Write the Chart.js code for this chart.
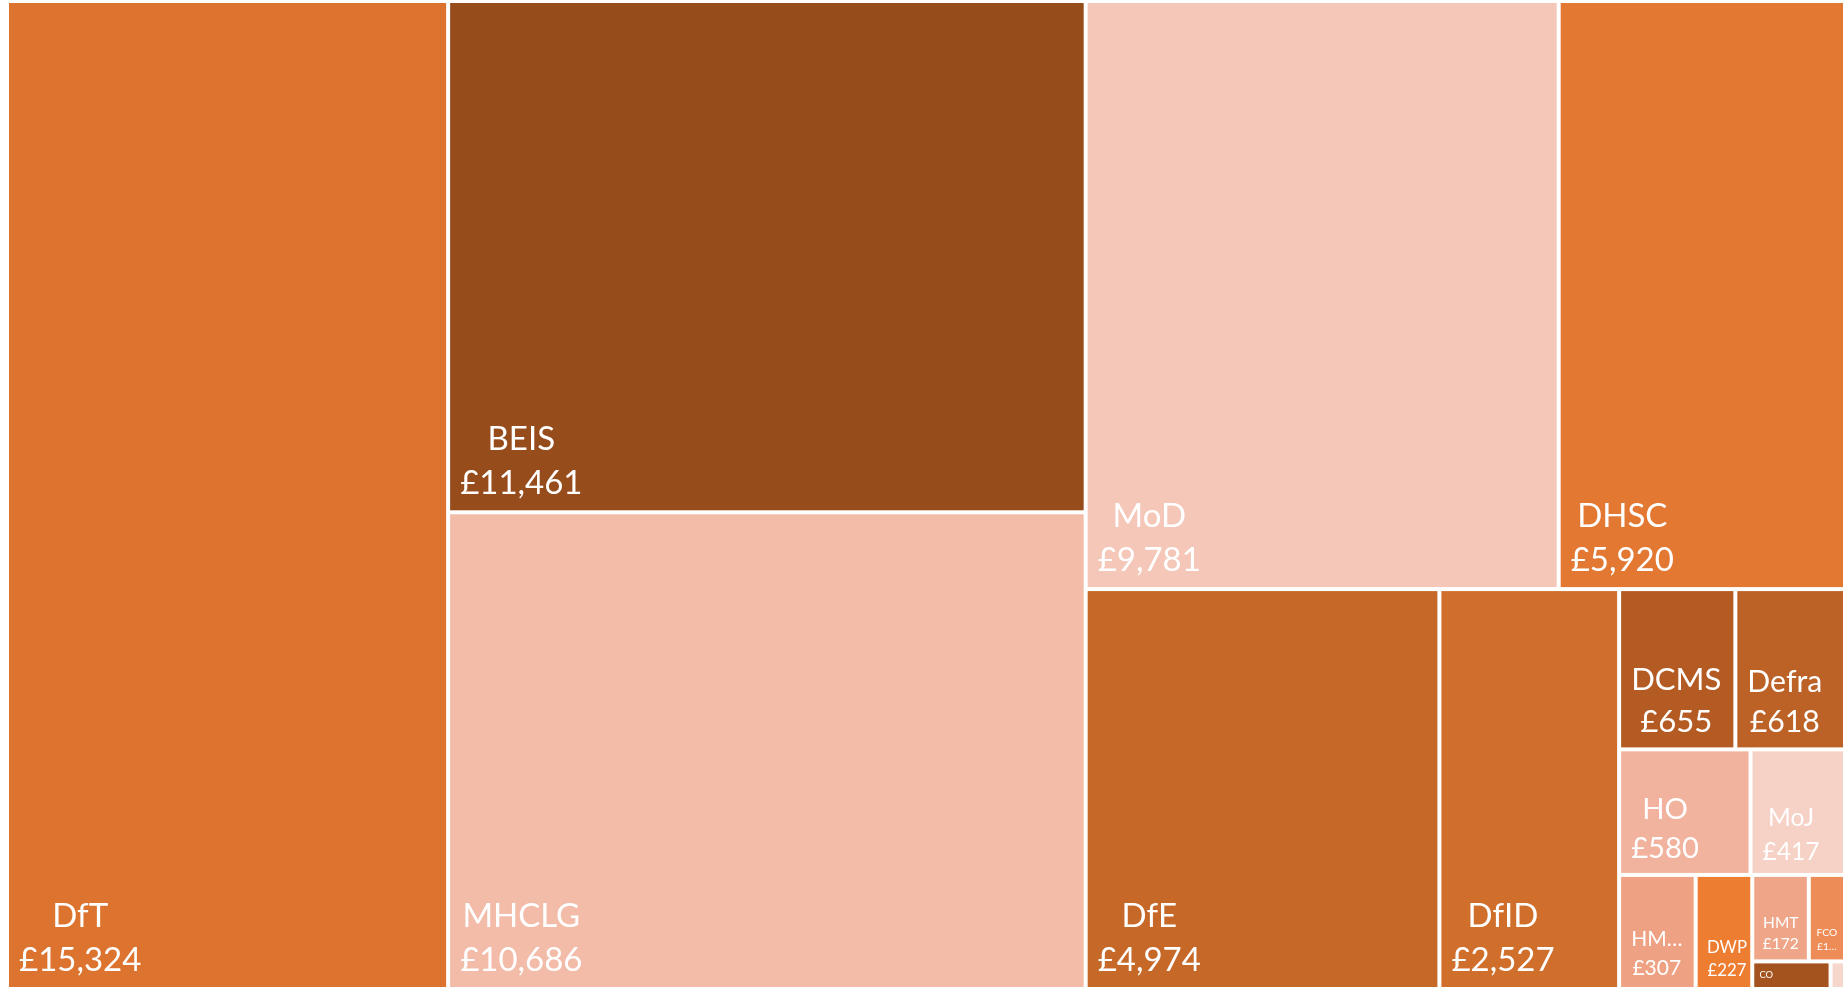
<!DOCTYPE html>
<html>
<head>
<meta charset="utf-8">
<script src="https://cdn.jsdelivr.net/npm/chart.js@4.4.1/dist/chart.umd.min.js"></script>
<style>
  html, body { margin: 0; padding: 0; background: #fff; overflow: hidden; }
  #wrap { width: 1847px; height: 991px; }
</style>
</head>
<body>
<div id="wrap"><canvas id="chart" width="1847" height="991"></canvas></div>
<script>
// department spend, £m
const departments = ['DfT', 'BEIS', 'MHCLG', 'MoD', 'DHSC', 'DfE', 'DfID', 'DCMS', 'Defra', 'HO', 'MoJ', 'HMRC', 'DWP', 'HMT', 'FCO', 'CO', 'Other'];
const spend = [15324, 11461, 10686, 9781, 5920, 4974, 2527, 655, 618, 580, 417, 307, 227, 172, 110, 76, 14];
const fills = ['#DC7430', '#974C1C', '#F2BCA9', '#F4C7B8', '#E27832', '#C66828', '#D06E2B', '#B35B22',
               '#BD6227', '#F2B39E', '#F6D1C5', '#EFA283', '#ED7D31', '#EFA688', '#EE8C58', '#A4531F', '#F7D6CB'];

// squarified layout, but aiming for slightly tall cells
function squarify(values, aspect) {
    const total = values.reduce((a, b) => a + b, 0);
    const areas = values.map(v => v / total * aspect);
    const target = Math.log(0.74);
    let rect = {x: 0, y: 0, w: aspect, h: 1};
    const out = [];

    function cost(row) {
        const s = row.reduce((a, i) => a + areas[i], 0);
        const vertical = rect.w >= rect.h;
        const t = s / (vertical ? rect.h : rect.w);
        let worst = 0;
        row.forEach(i => {
            const len = areas[i] / t;
            const r = vertical ? t / len : len / t;
            worst = Math.max(worst, Math.abs(Math.log(r) - target));
        });
        return worst;
    }

    let i = 0;
    while (i < areas.length) {
        let row = [i], best = cost(row), j = i + 1;
        while (j < areas.length) {
            const c = cost(row.concat(j));
            if (c > best) break;
            row.push(j);
            best = c;
            j++;
        }
        const s = row.reduce((a, k) => a + areas[k], 0);
        if (rect.w >= rect.h) {
            const t = s / rect.h;
            let yy = rect.y;
            row.forEach(k => {
                const hh = areas[k] / t;
                out[k] = {x: rect.x, y: yy, w: t, h: hh};
                yy += hh;
            });
            rect = {x: rect.x + t, y: rect.y, w: rect.w - t, h: rect.h};
        } else {
            const t = s / rect.w;
            let xx = rect.x;
            row.forEach(k => {
                const ww = areas[k] / t;
                out[k] = {x: xx, y: rect.y, w: ww, h: t};
                xx += ww;
            });
            rect = {x: rect.x, y: rect.y + t, w: rect.w, h: rect.h - t};
        }
        i = j;
    }
    return out;
}

function fitText(ctx, text, avail) {
    if (ctx.measureText(text).width <= avail) return text;
    let t = text;
    while (t.length > 1 && ctx.measureText(t + '…').width > avail) t = t.slice(0, -1);
    return t + '…';
}

const treemapPlugin = {
    id: 'treemap',
    afterDatasetsDraw(chart) {
        const {ctx, chartArea, scales} = chart;
        const ds = chart.data.datasets[0];
        const aspect = chartArea.width / chartArea.height;
        const cells = squarify(ds.data, aspect);
        const gap = 2;
        ctx.save();
        cells.forEach((c, i) => {
            const x0 = scales.x.getPixelForValue(c.x / aspect) + gap;
            const x1 = scales.x.getPixelForValue((c.x + c.w) / aspect) - gap;
            const y0 = scales.y.getPixelForValue(c.y) + gap;
            const y1 = scales.y.getPixelForValue(c.y + c.h) - gap;
            const w = x1 - x0, h = y1 - y0;
            ctx.fillStyle = ds.backgroundColor[i];
            ctx.fillRect(x0, y0, w, h);

            const fs = Math.min(33, 0.235 * Math.sqrt(w * h), 0.32 * w, 0.4 * h);
            if (fs < 7) return;
            ctx.font = fs.toFixed(1) + 'px Lato';
            ctx.fillStyle = '#ffffff';
            ctx.textAlign = 'center';
            ctx.textBaseline = 'alphabetic';
            const pad = Math.min(10, 0.55 * fs);
            const avail = w - pad - 3;
            let lines = [chart.data.labels[i], '£' + ds.data[i].toLocaleString('en-GB')];
            const lh = fs * 1.35;
            const bottomGap = 6 + 0.3 * fs;
            if (bottomGap + fs * 0.75 + lh > h) lines = lines.slice(0, 1);
            lines = lines.map(t => fitText(ctx, t, avail));
            const bw = Math.max(...lines.map(t => ctx.measureText(t).width));
            const cx = x0 + pad + bw / 2;
            let by = y1 - bottomGap - (lines.length - 1) * lh;
            lines.forEach(t => {
                ctx.fillText(t, cx, by);
                by += lh;
            });
        });
        ctx.restore();
    }
};

new Chart(document.getElementById('chart'), {
    type: 'scatter',
    data: {
        labels: departments,
        datasets: [{
            data: spend,
            backgroundColor: fills,
            pointRadius: 0
        }]
    },
    options: {
        responsive: false,
        animation: false,
        layout: {padding: {left: 7, top: 1, right: 2, bottom: 2}},
        plugins: {legend: {display: false}, tooltip: {enabled: false}},
        scales: {
            x: {type: 'linear', min: 0, max: 1, display: false},
            y: {type: 'linear', min: 0, max: 1, reverse: true, display: false}
        }
    },
    plugins: [treemapPlugin]
});
</script>
</body>
</html>
